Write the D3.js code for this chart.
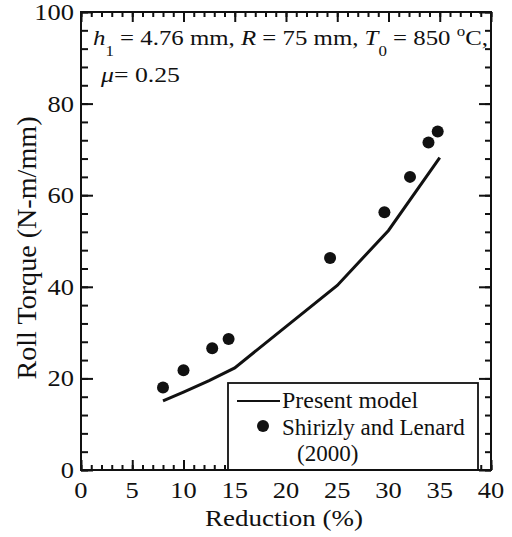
<!DOCTYPE html>
<html>
<head>
<meta charset="utf-8">
<script src="https://cdn.jsdelivr.net/npm/d3@7"></script>
<style>
  body { margin: 0; background: #fff; }
  svg { display: block; }
</style>
</head>
<body>
<div id="chart"></div>
<script>
// model curve (Present model)
const modelReduction = [8, 10, 12.5, 15, 20, 25, 30, 35];
const modelTorque = [15.1, 17.0, 19.5, 22.3, 31.3, 40.3, 52.3, 68.2];

// measured points (Shirizly and Lenard, 2000)
const expReduction = [8, 10, 12.8, 14.4, 24.3, 29.6, 32.1, 33.9, 34.8];
const expTorque = [18, 21.8, 26.6, 28.6, 46.3, 56.3, 64, 71.5, 73.9];

const xMajor = [0, 5, 10, 15, 20, 25, 30, 35, 40];
const yMajor = [0, 20, 40, 60, 80, 100];

const width = 512, height = 537;
const serif = '"Liberation Serif", "Times New Roman", "DejaVu Serif", serif';

const svg = d3.select('#chart').append('svg')
    .attr('width', width)
    .attr('height', height)
    .attr('font-family', serif);

const x = d3.scaleLinear().domain([0, 40]).range([81, 491]);
const y = d3.scaleLinear().domain([0, 100]).range([470, 12]);

// the source picture is a bit wider than tall, stretch text to match
function stretch(sel, k) {
    sel.each(function() {
        const w = this.getComputedTextLength();
        d3.select(this).attr('textLength', w * k).attr('lengthAdjust', 'spacingAndGlyphs');
    });
}

// frame ticks, all pointing inward
const xMinor = d3.range(0, 41, 1);
const yMinor = d3.range(0, 101, 4);

function tickAxis(axisFn, scale, values, size, tx, ty) {
    const g = svg.append('g')
        .attr('transform', `translate(${tx},${ty})`)
        .call(axisFn(scale).tickValues(values).tickSize(-size).tickFormat(''));
    g.select('.domain').remove();
    g.selectAll('line').attr('stroke', '#111').attr('stroke-width', 2);
    return g;
}
tickAxis(d3.axisBottom, x, xMinor, 5, 0, 470);
tickAxis(d3.axisBottom, x, xMajor, 10, 0, 470);
tickAxis(d3.axisTop, x, xMinor, 5, 0, 12);
tickAxis(d3.axisTop, x, xMajor, 10, 0, 12);
tickAxis(d3.axisLeft, y, yMinor, 7, 81, 0);
tickAxis(d3.axisLeft, y, yMajor, 12, 81, 0);
tickAxis(d3.axisRight, y, yMinor, 6, 491, 0);
tickAxis(d3.axisRight, y, yMajor, 12, 491, 0);

// tick labels
svg.append('g').selectAll('text')
    .data(xMajor)
    .join('text')
    .attr('x', d => x(d))
    .attr('y', 498)
    .attr('text-anchor', 'middle')
    .attr('font-size', 23)
    .attr('fill', '#111')
    .text(d => d)
    .call(stretch, 1.15);

svg.append('g').selectAll('text')
    .data(yMajor)
    .join('text')
    .attr('x', 74)
    .attr('y', d => y(d) + 8)
    .attr('text-anchor', 'end')
    .attr('font-size', 23)
    .attr('fill', '#111')
    .text(d => d)
    .call(stretch, 1.15);

// axis titles
svg.append('text')
    .attr('x', 284)
    .attr('y', 526)
    .attr('text-anchor', 'middle')
    .attr('font-size', 23)
    .attr('fill', '#111')
    .attr('textLength', 158)
    .attr('lengthAdjust', 'spacingAndGlyphs')
    .text('Reduction (%)');

svg.append('text')
    .attr('transform', 'translate(36,248) rotate(-90)')
    .attr('text-anchor', 'middle')
    .attr('font-size', 27)
    .attr('fill', '#111')
    .attr('textLength', 263)
    .attr('lengthAdjust', 'spacingAndGlyphs')
    .text('Roll Torque (N-m/mm)');

// legend box (white, sits over the curve)
svg.append('rect')
    .attr('x', 228).attr('y', 383)
    .attr('width', 250).attr('height', 87)
    .attr('fill', '#fff')
    .attr('stroke', '#111')
    .attr('stroke-width', 1.8);

// model line
const line = d3.line()
    .x((d, i) => x(modelReduction[i]))
    .y(d => y(d));
svg.append('path')
    .datum(modelTorque)
    .attr('d', line)
    .attr('fill', 'none')
    .attr('stroke', '#111')
    .attr('stroke-width', 3);

// measured points
svg.append('g').selectAll('circle')
    .data(expTorque)
    .join('circle')
    .attr('cx', (d, i) => x(expReduction[i]))
    .attr('cy', d => y(d))
    .attr('r', 6)
    .attr('fill', '#111');

// legend contents
svg.append('line')
    .attr('x1', 237).attr('x2', 280)
    .attr('y1', 401).attr('y2', 401)
    .attr('stroke', '#111').attr('stroke-width', 2);
svg.append('text').attr('x', 282).attr('y', 408)
    .attr('font-size', 23).attr('fill', '#111').text('Present model')
    .call(stretch, 1.04);
svg.append('circle').attr('cx', 263).attr('cy', 426).attr('r', 6).attr('fill', '#111');
svg.append('text').attr('x', 282).attr('y', 435)
    .attr('font-size', 23).attr('fill', '#111').text('Shirizly and Lenard');
svg.append('text').attr('x', 297).attr('y', 461)
    .attr('font-size', 23).attr('fill', '#111').text('(2000)');

// frame
svg.append('rect')
    .attr('x', 81).attr('y', 12)
    .attr('width', 410).attr('height', 458)
    .attr('fill', 'none')
    .attr('stroke', '#111')
    .attr('stroke-width', 2);

// parameter annotation
const note = svg.append('text').attr('x', 93).attr('y', 45)
    .attr('font-size', 22).attr('fill', '#111')
    .attr('textLength', 395).attr('lengthAdjust', 'spacingAndGlyphs');
note.append('tspan').attr('font-style', 'italic').text('h');
note.append('tspan').attr('dy', 11).attr('font-size', 15).text('1');
note.append('tspan').attr('dy', -11).text(' = 4.76 mm, ');
note.append('tspan').attr('font-style', 'italic').text('R');
note.append('tspan').text(' = 75 mm, ');
note.append('tspan').attr('font-style', 'italic').text('T');
note.append('tspan').attr('dy', 11).attr('font-size', 15).text('0');
note.append('tspan').attr('dy', -11).text(' = 850 ');
note.append('tspan').attr('dy', -9).attr('font-size', 15).text('o');
note.append('tspan').attr('dy', 9).text('C,');

const mu = svg.append('text').attr('x', 101).attr('y', 82)
    .attr('font-size', 22).attr('fill', '#111')
    .attr('textLength', 79).attr('lengthAdjust', 'spacingAndGlyphs');
mu.append('tspan').attr('font-style', 'italic').text('μ');
mu.append('tspan').text('= 0.25');
</script>
</body>
</html>
